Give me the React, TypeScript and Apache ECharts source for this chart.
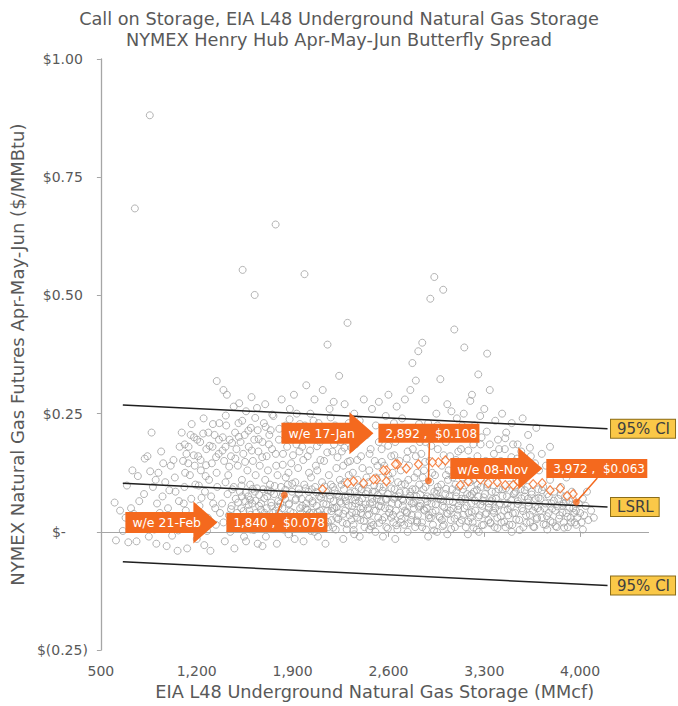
import React, { useEffect, useRef } from "react";
import * as echarts from "echarts";

// ---------- text ----------
const titleLines = [
  "Call on Storage, EIA L48 Underground Natural Gas Storage",
  "NYMEX Henry Hub Apr-May-Jun Butterfly Spread",
];
const xAxisName = "EIA L48 Underground Natural Gas Storage (MMcf)";
const yAxisName = "NYMEX Natural Gas Futures Apr-May-Jun ($/MMBtu)";
const xTicks = [500, 1200, 1900, 2600, 3300, 4000];

// ---------- historical weekly observations [storage MMcf, spread $/MMBtu] ----------
const hist0500_1080: number[][] = [
  [600,0.062],[640,0.045],[660,0.002],[700,-0.022],[690,0.098],[720,0.050],[740,0.038],[760,-0.020],[780,0.065],[610,-0.018],
  [730,0.13],[770,0.118],[750,0.012],[680,0.03],[748,0.684],[857,0.881],
  [820,0.155],[840,0.160],[860,0.128],[880,0.095],[900,0.110],[910,0.060],[930,0.040],[950,0.075],[960,0.012],[980,-0.030],
  [1000,0.088],[1010,0.140],[1030,0.152],[1050,0.025],[1060,-0.040],[1070,0.065],[830,0.030],[850,-0.010],[870,0.210],[890,0.005],
  [920,0.125],[940,0.170],[970,0.105],[990,0.050],[1020,-0.008],[1040,0.115],[1075,0.180],[815,0.080],[905,-0.025],[1065,0.003],
  [955,0.145],[1045,0.085],
];
const hist1080_1375: number[][] = [
  [1090,0.210],[1100,0.150],[1110,0.095],[1120,0.045],[1130,-0.035],[1140,0.180],[1150,0.120],[1160,0.070],[1170,0.020],[1180,0.200],
  [1190,0.100],[1200,-0.015],[1210,0.160],[1220,0.055],[1230,0.130],[1240,0.005],[1250,0.240],[1260,0.085],[1270,0.175],[1280,0.030],
  [1290,0.110],[1300,-0.040],[1310,0.145],[1320,0.060],[1330,0.205],[1340,0.015],[1350,0.095],[1360,0.165],[1370,0.040],[1346,0.319],
  [1395,0.300],[1105,0.060],[1145,0.012],[1185,0.140],[1225,0.190],[1265,0.118],[1305,0.075],[1345,0.125],[1125,0.165],[1215,0.098],
  [1285,0.210],[1335,0.050],[1255,-0.028],[1195,0.035],[1365,0.230],[1155,0.205],[1235,0.072],[1315,0.180],[1275,0.002],[1115,0.125],
];
const hist1375_1665: number[][] = [
  [1420,0.290],[1470,0.265],[1510,0.272],[1560,0.255],[1600,0.285],[1640,0.262],[1535,0.554],[1623,0.501],
  [1390,0.200],[1400,0.150],[1410,0.180],[1430,0.120],[1440,0.195],[1450,0.160],[1460,0.090],[1480,0.210],[1490,0.175],[1500,0.140],
  [1520,0.190],[1530,0.110],[1540,0.165],[1550,0.205],[1570,0.130],[1580,0.180],[1590,0.100],[1610,0.150],[1620,0.195],[1630,0.120],
  [1650,0.170],[1660,0.140],[1415,0.225],[1505,0.230],[1595,0.220],[1645,0.215],
  [1385,0.060],[1395,0.020],[1405,-0.020],[1425,0.080],[1435,0.035],[1445,0.000],[1455,0.055],[1465,0.025],[1475,-0.035],[1485,0.070],
  [1495,0.040],[1505,0.010],[1515,0.085],[1525,0.050],[1535,0.015],[1545,-0.010],[1555,0.065],[1565,0.030],[1575,0.075],[1585,0.045],
  [1595,0.005],[1605,0.060],[1615,0.020],[1625,0.085],[1635,0.040],[1645,-0.025],[1655,0.055],[1665,0.010],[1410,0.105],[1470,0.095],
  [1530,0.075],[1590,0.068],[1640,0.092],[1450,0.048],[1560,-0.020],[1620,0.030],
];
const hist1665_1960: number[][] = [
  [1776,0.650],[1700,0.270],[1760,0.245],[1820,0.280],[1880,0.260],[1930,0.250],[1690,0.230],[1850,0.225],[1910,0.290],
  [1680,0.190],[1710,0.160],[1730,0.205],[1750,0.175],[1780,0.140],[1800,0.195],[1830,0.165],[1860,0.180],[1890,0.145],[1920,0.200],
  [1950,0.170],[1720,0.130],[1790,0.120],[1870,0.125],[1940,0.135],[1740,0.215],[1900,0.210],
  [1670,0.060],[1675,0.020],[1685,0.090],[1695,0.040],[1705,-0.010],[1715,0.075],[1725,0.030],[1735,0.100],[1745,0.055],[1755,0.010],
  [1765,0.080],[1775,0.045],[1785,-0.025],[1795,0.065],[1805,0.025],[1815,0.095],[1825,0.050],[1835,0.005],[1845,0.070],[1855,0.035],
  [1865,0.100],[1875,0.060],[1885,0.015],[1895,0.085],[1905,0.040],[1915,-0.015],[1925,0.070],[1935,0.030],[1945,0.090],[1955,0.050],
  [1700,0.110],[1760,0.025],[1810,0.060],[1870,-0.005],[1920,0.105],[1680,-0.030],[1740,0.085],[1800,0.040],[1850,0.115],[1900,0.020],
  [1950,0.010],[1710,0.050],[1830,0.080],
];
const hist1960_2250: number[][] = [
  [1987,0.545],[2155,0.396],[2000,0.310],[2060,0.280],[2120,0.300],[2200,0.275],[2030,0.250],[2170,0.260],[2240,0.330],
  [1970,0.180],[2010,0.160],[2040,0.200],[2070,0.140],[2100,0.190],[2130,0.150],[2160,0.210],[2190,0.170],[2220,0.135],[2250,0.190],
  [1990,0.225],[2090,0.230],[2210,0.225],
  [1965,0.070],[1975,0.030],[1985,0.100],[1995,0.050],[2005,0.010],[2015,0.085],[2025,0.040],[2035,0.115],[2045,0.065],[2055,0.020],
  [2065,0.095],[2075,0.055],[2085,-0.010],[2095,0.075],[2105,0.035],[2115,0.105],[2125,0.060],[2135,0.015],[2145,0.085],[2155,0.045],
  [2165,0.120],[2175,0.070],[2185,0.025],[2195,0.095],[2205,0.050],[2215,0.005],[2225,0.080],[2235,0.040],[2245,0.110],[1980,-0.020],
  [2020,0.125],[2060,0.000],[2100,0.045],[2140,-0.025],[2180,0.100],[2220,0.030],[2000,0.060],[2040,0.090],[2080,0.130],[2120,0.080],
  [2160,0.010],[2200,0.065],[2240,0.075],[2010,0.035],[2110,0.020],[2190,0.050],[2050,0.040],
];
const hist2250_2540: number[][] = [
  [2301,0.442],[2280,0.270],[2350,0.250],[2420,0.280],[2480,0.260],[2530,0.275],[2390,0.235],[2310,0.230],
  [2260,0.170],[2290,0.200],[2320,0.150],[2360,0.185],[2400,0.160],[2440,0.205],[2470,0.175],[2500,0.150],[2530,0.190],[2270,0.140],
  [2340,0.125],[2410,0.135],[2460,0.130],[2520,0.140],[2380,0.215],
  [2255,0.060],[2265,0.020],[2275,0.090],[2285,0.045],[2295,0.005],[2305,0.075],[2315,0.035],[2325,0.100],[2335,0.055],[2345,0.015],
  [2355,0.085],[2365,0.040],[2375,0.110],[2385,0.065],[2395,0.025],[2405,0.090],[2415,0.050],[2425,0.010],[2435,0.080],[2445,0.035],
  [2455,0.105],[2465,0.060],[2475,0.020],[2485,0.085],[2495,0.045],[2505,0.000],[2515,0.070],[2525,0.030],[2535,0.095],[2270,-0.015],
  [2310,0.120],[2350,-0.005],[2400,0.040],[2440,0.115],[2490,0.015],[2530,0.055],[2290,0.065],[2330,0.025],[2370,0.075],[2420,0.100],
  [2460,0.005],[2500,0.085],[2280,0.105],[2360,0.060],[2450,0.050],[2510,0.115],[2390,-0.010],[2480,0.070],
];
const hist2540_2830: number[][] = [
  [2775,0.357],[2818,0.382],[2800,0.320],[2600,0.290],[2660,0.265],[2720,0.280],[2580,0.245],[2700,0.240],[2760,0.300],[2640,0.230],
  [2550,0.175],[2590,0.200],[2620,0.160],[2650,0.190],[2680,0.150],[2710,0.210],[2740,0.170],[2770,0.200],[2800,0.160],[2830,0.190],
  [2570,0.140],[2630,0.125],[2690,0.130],[2750,0.140],[2810,0.125],
  [2545,0.065],[2555,0.025],[2565,0.095],[2575,0.050],[2585,0.010],[2595,0.080],[2605,0.040],[2615,0.110],[2625,0.060],[2635,0.020],
  [2645,0.090],[2655,0.045],[2665,0.005],[2675,0.075],[2685,0.035],[2695,0.100],[2705,0.055],[2715,0.015],[2725,0.085],[2735,0.040],
  [2745,0.110],[2755,0.065],[2765,0.025],[2775,0.090],[2785,0.050],[2795,0.010],[2805,0.075],[2815,0.035],[2825,0.100],[2560,-0.010],
  [2600,0.120],[2650,-0.015],[2700,0.070],[2740,0.000],[2790,0.115],[2830,0.055],[2580,0.070],[2620,0.030],[2670,0.105],[2720,0.045],
  [2770,0.060],[2810,0.020],[2550,0.115],[2690,0.020],[2760,0.085],[2640,0.070],
];
const hist2830_3120: number[][] = [
  [2847,0.400],[2935,0.539],[3000,0.512],[2906,0.493],[2979,0.323],[3081,0.428],[2870,0.280],[2950,0.250],[3030,0.270],[3100,0.240],
  [2890,0.230],[3060,0.255],
  [2840,0.165],[2870,0.190],[2900,0.150],[2930,0.200],[2960,0.175],[2990,0.140],[3020,0.190],[3050,0.160],[3080,0.205],[3110,0.170],
  [2860,0.130],[2920,0.125],[2980,0.205],[3040,0.130],[3100,0.135],
  [2835,0.060],[2845,0.020],[2855,0.090],[2865,0.045],[2875,0.005],[2885,0.075],[2895,0.035],[2905,0.105],[2915,0.060],[2925,0.015],
  [2935,0.085],[2945,0.045],[2955,0.000],[2965,0.070],[2975,0.030],[2985,0.100],[2995,0.055],[3005,0.015],[3015,0.080],[3025,0.040],
  [3035,0.110],[3045,0.065],[3055,0.025],[3065,0.090],[3075,0.050],[3085,0.010],[3095,0.075],[3105,0.035],[3115,0.095],[2850,0.115],
  [2890,-0.010],[2940,0.120],[2990,0.025],[3030,-0.005],[3070,0.115],[3110,0.055],[2870,0.070],[2910,0.030],[2960,0.095],[3000,0.065],
  [3050,0.045],[3090,0.100],[2880,0.050],[2950,0.080],[3020,0.120],
];
const hist3120_3410: number[][] = [
  [3154,0.390],[3198,0.277],[3210,0.290],[3256,0.333],[3321,0.377],[3340,0.300],[3150,0.250],[3270,0.245],[3380,0.235],[3300,0.260],
  [3230,0.225],
  [3130,0.175],[3160,0.200],[3190,0.150],[3220,0.185],[3250,0.160],[3280,0.200],[3310,0.150],[3340,0.185],[3370,0.165],[3400,0.195],
  [3170,0.130],[3240,0.125],[3320,0.130],[3390,0.140],
  [3125,0.065],[3135,0.025],[3145,0.090],[3155,0.050],[3165,0.010],[3175,0.080],[3185,0.040],[3195,0.105],[3205,0.060],[3215,0.020],
  [3225,0.085],[3235,0.045],[3245,0.005],[3255,0.075],[3265,0.035],[3275,0.095],[3285,0.055],[3295,0.015],[3305,0.080],[3315,0.040],
  [3325,0.100],[3335,0.060],[3345,0.020],[3355,0.085],[3365,0.045],[3375,0.010],[3385,0.070],[3395,0.030],[3405,0.090],[3140,0.115],
  [3180,-0.005],[3220,0.110],[3260,0.000],[3300,0.115],[3350,0.065],[3390,0.110],[3160,0.070],[3200,0.030],[3250,0.100],[3290,0.065],
  [3330,0.025],[3380,0.050],[3210,0.080],
];
const hist3410_4100: number[][] = [
  [3430,0.250],[3500,0.230],[3580,0.240],[3460,0.210],[3620,0.205],[3680,0.220],
  [3420,0.150],[3450,0.175],[3480,0.140],[3510,0.185],[3540,0.155],[3570,0.170],[3600,0.135],[3640,0.160],[3670,0.145],[3700,0.130],
  [3415,0.060],[3425,0.020],[3435,0.090],[3445,0.045],[3455,0.010],[3465,0.075],[3475,0.035],[3485,0.100],[3495,0.055],[3505,0.015],
  [3515,0.080],[3525,0.040],[3535,0.110],[3545,0.065],[3555,0.025],[3565,0.090],[3575,0.050],[3585,0.010],[3595,0.075],[3605,0.035],
  [3615,0.095],[3625,0.055],[3635,0.020],[3645,0.085],[3655,0.045],[3665,0.010],[3675,0.070],[3685,0.030],[3695,0.090],[3440,0.120],
  [3500,0.000],[3560,0.115],[3620,0.070],[3690,0.050],[3470,0.060],[3530,0.085],[3590,0.110],
  [3710,0.070],[3720,0.030],[3730,0.095],[3740,0.050],[3750,0.015],[3760,0.080],[3770,0.040],[3780,0.110],[3790,0.060],[3800,0.020],
  [3810,0.085],[3820,0.045],[3830,0.010],[3840,0.070],[3850,0.035],[3860,0.095],[3870,0.055],[3880,0.020],[3890,0.075],[3900,0.040],
  [3910,0.010],[3920,0.065],[3930,0.030],[3940,0.085],[3950,0.050],[3960,0.020],[3970,0.045],[3980,0.030],[3990,0.060],[3750,0.140],
  [3800,0.125],[3850,0.130],[3720,0.165],[3780,0.180],[3900,0.115],[3760,0.005],[3880,0.060],
  [4000,0.040],[4010,0.020],[4020,0.070],[4030,0.035],[4040,0.055],[4060,0.025],[4080,0.045],[4050,0.085],[4020,0.005],[4100,0.030],
];
const histDenseCore: number[][] = [
  [1502,0.062],[1518,0.028],[1527,0.098],[1541,0.044],[1558,0.083],[1566,0.012],[1579,0.057],[1593,0.036],[1608,0.091],[1617,0.004],
  [1629,0.066],[1642,0.022],[1656,0.078],[1668,0.047],[1681,0.008],[1693,0.071],[1707,0.033],[1719,0.088],[1732,0.015],[1744,0.062],
  [1758,0.040],[1769,0.097],[1783,0.026],[1796,0.053],[1808,0.011],[1822,0.074],[1834,0.032],[1847,0.089],[1859,0.018],[1872,0.058],
  [1884,0.043],[1897,0.102],[1909,0.006],[1921,0.067],[1934,0.024],[1946,0.081],[1958,0.038],[1971,0.055],[1983,0.013],[1996,0.092],
  [2008,0.047],[2021,0.070],[2033,0.002],[2046,0.061],[2058,0.029],[2071,0.084],[2083,0.042],[2096,0.016],[2108,0.072],[2121,0.035],
  [2133,0.096],[2146,0.058],[2158,0.021],[2171,0.077],[2183,0.044],[2196,0.009],[2208,0.088],[2221,0.052],[2233,0.027],[2246,0.064],
  [2258,0.100],[2271,0.038],[2283,0.073],[2296,0.017],[2308,0.056],[2321,0.082],[2333,0.041],[2346,0.004],[2358,0.067],[2371,0.030],
  [2383,0.093],[2396,0.049],[2408,0.071],[2421,0.023],[2433,0.058],[2446,0.086],[2458,0.037],[2471,0.012],[2483,0.063],[2496,0.098],
  [2508,0.045],[2521,0.078],[2533,0.019],[2546,0.054],[2558,0.087],[2571,0.031],[2583,0.068],[2596,0.007],[2608,0.049],[2621,0.092],
  [2633,0.036],[2646,0.074],[2658,0.014],[2671,0.059],[2683,0.083],[2696,0.027],[2708,0.066],[2721,0.101],[2733,0.042],[2746,0.018],
  [2758,0.076],[2771,0.035],[2783,0.061],[2796,0.090],[2808,0.024],[2821,0.053],[2833,0.079],[2846,0.010],[2858,0.047],[2871,0.095],
  [2883,0.064],[2896,0.029],[2908,0.072],[2921,0.041],[2933,0.003],[2946,0.058],[2958,0.087],[2971,0.033],[2983,0.069],[2996,0.012],
  [3008,0.052],[3021,0.091],[3033,0.038],[3046,0.075],[3058,0.006],[3071,0.063],[3083,0.028],[3096,0.084],[3108,0.047],[3121,0.019],
  [3133,0.070],[3146,0.036],[3158,0.098],[3171,0.055],[3183,0.022],[3196,0.077],[3208,0.042],[3221,0.009],[3233,0.066],[3246,0.089],
  [3258,0.031],[3271,0.058],[3283,0.014],[3296,0.073],[3308,0.037],[3321,0.095],[3333,0.051],[3346,0.018],[3358,0.069],[3371,0.040],
  [3383,0.085],[3396,0.008],[3408,0.057],[3421,0.033],[3433,0.076],[3446,0.021],[3458,0.092],[3471,0.048],[3483,0.015],[3496,0.067],
  [3508,0.039],[3521,0.082],[3533,0.026],[3546,0.059],[3558,0.004],[3571,0.071],[3583,0.044],[3596,0.088],[3608,0.019],[3621,0.062],
  [3633,0.036],[3646,0.079],[3658,0.011],[3671,0.053],[3683,0.027],[3696,0.072],[3708,0.045],[3721,0.088],[3733,0.016],[3746,0.060],
  [3758,0.033],[3771,0.075],[3783,0.023],[3796,0.049],[3808,0.066],[3821,0.012],[3833,0.054],[3846,0.028],[3858,0.078],[3871,0.041],
  [3883,0.009],[3896,0.063],[3908,0.032],[3921,0.051],[3933,0.020],[3946,0.070],[3958,0.040],[3971,0.015],
];
const histUpperBand: number[][] = [
  [1112,0.185],[1138,0.145],[1163,0.228],[1178,0.162],[1203,0.195],[1228,0.152],[1247,0.208],[1268,0.141],[1294,0.182],[1318,0.228],
  [1341,0.158],[1362,0.195],[1388,0.172],[1412,0.246],[1437,0.138],[1458,0.188],[1482,0.155],[1507,0.201],[1532,0.235],[1553,0.148],
  [1577,0.214],[1602,0.172],[1627,0.241],[1652,0.196],[1678,0.158],[1703,0.222],[1727,0.185],[1752,0.248],[1777,0.165],[1803,0.218],
  [1828,0.142],[1853,0.196],[1878,0.238],[1903,0.162],[1928,0.185],[1953,0.228],[1978,0.152],[2003,0.198],[2028,0.172],[2053,0.235],
  [2078,0.181],[2103,0.152],[2128,0.215],[2153,0.168],[2178,0.242],[2203,0.185],[2228,0.158],[2253,0.222],[2278,0.178],[2303,0.148],
  [2330,0.178],[2372,0.152],[2418,0.205],[2462,0.165],[2508,0.225],[2552,0.148],[2598,0.182],[2643,0.162],[2688,0.215],[2733,0.155],
  [2778,0.175],[2823,0.228],[2868,0.148],[2913,0.182],[2958,0.225],[3003,0.162],[3048,0.205],[3093,0.152],[3138,0.225],[3183,0.172],
  [3228,0.148],[3273,0.185],[3318,0.212],[3363,0.148],[3408,0.175],[3453,0.198],[3498,0.158],[3543,0.185],[3588,0.148],[3633,0.178],
];

// ---------- current season (orange diamonds) ----------
const currentSeason: number[][] = [
  [3949,0.080],[3905,0.076],[3854,0.092],[3781,0.088],[3723,0.103],[3657,0.101],[3548,0.107],[3511,0.099],[3453,0.099],[3395,0.105],
  [3329,0.103],[3271,0.111],[3183,0.107],[3125,0.099],[3016,0.151],[2965,0.147],[2921,0.147],[2819,0.143],[2731,0.134],[2666,0.143],
  [2651,0.143],[2585,0.130],[2564,0.130],[2585,0.107],[2513,0.111],[2491,0.111],[2418,0.103],[2345,0.107],[2301,0.103],[2119,0.090],
];

// ---------- highlighted weeks ----------
const highlightPoints: number[][] = [[1840, 0.078], [2892, 0.108], [3972, 0.063]];
const highlightWeeks = ["w/e 21-Feb", "w/e 17-Jan", "w/e 08-Nov"];

// ---------- regression line and 95% confidence band ----------
const ciUpper: number[][] = [[660, 0.2685], [4200, 0.2182]];
const lsrl: number[][] = [[660, 0.1027], [4200, 0.0524]];
const ciLower: number[][] = [[660, -0.0631], [4200, -0.1136]];
const lineLabels = ["95% CI", "LSRL", "95% CI"];

// ---------- styles ----------
const FONT = "'DejaVu Sans', Verdana, sans-serif";
const GREY_TEXT = "#595959";
const AXIS_GREY = "#a6a6a6";
const ORANGE = "#F4691E";

// annotation layout (offsets from the highlighted point, in px)
const annLayout = [
  { boxDx: -58, boxDy: 18, leadDx: -7, gap: 9 },
  { boxDx: -50, boxDy: -57, leadDx: 1, gap: 5 },
  { boxDx: -30, boxDy: -43, leadDx: 21, gap: 4 },
];

const fmtStorage = (v: number) => v.toLocaleString("en-US");
const fmtMoney = (v: number) => {
  if (Math.abs(v) < 1e-9) return "{z|$-}";
  if (v < 0) return "{n|$(" + (-v).toFixed(2) + ")}";
  return "{p|$" + v.toFixed(2) + "}";
};

function lineSeries(data: number[][], label: string) {
  return {
    type: "line",
    xAxisIndex: 0,
    yAxisIndex: 0,
    silent: true,
    z: 4,
    symbol: "circle",
    symbolSize: 1,
    showSymbol: true,
    itemStyle: { color: "rgba(0,0,0,0)" },
    lineStyle: { color: "#1f1f1f", width: 1.5 },
    label: { show: false },
    data: data.map((d, i) =>
      i === data.length - 1
        ? {
            value: d,
            label: {
              show: true,
              position: "right",
              distance: 3,
              formatter: label,
              fontFamily: FONT,
              fontSize: 15,
              color: "#404040",
              backgroundColor: "#FAC848",
              borderColor: "#8a6d1a",
              borderWidth: 1,
              padding: [2, 5, 1, 6],
            },
          }
        : d
    ),
  };
}

export default function App() {
  const ref = useRef<HTMLDivElement>(null);
  useEffect(() => {
    document.body.style.margin = "0";
    const chart = echarts.init(ref.current!, null, { renderer: "svg" });
    const hist = [
      ...hist0500_1080, ...hist1080_1375, ...hist1375_1665, ...hist1665_1960, ...hist1960_2250,
      ...hist2250_2540, ...hist2540_2830, ...hist2830_3120, ...hist3120_3410, ...hist3410_4100,
      ...histDenseCore, ...histUpperBand,
    ];
    const option: any = {
      animation: false,
      title: {
        text: titleLines.join("\n"),
        left: "center",
        top: 3,
        textStyle: { fontFamily: FONT, fontSize: 17.7, fontWeight: "normal", color: GREY_TEXT, lineHeight: 21 },
      },
      grid: { left: 100, right: 29.4, top: 59, bottom: 51 },
      xAxis: [
        {
          type: "value",
          min: 500,
          max: 4500,
          position: "bottom",
          name: xAxisName,
          nameLocation: "middle",
          nameGap: 29,
          nameTextStyle: { fontFamily: FONT, fontSize: 17.7, color: GREY_TEXT },
          axisLine: { show: false, onZero: false },
          axisTick: { show: false },
          splitLine: { show: false },
          axisLabel: {
            customValues: xTicks,
            formatter: (v: number) => fmtStorage(v),
            margin: 14,
            fontFamily: FONT,
            fontSize: 14,
            color: GREY_TEXT,
          },
        },
        {
          type: "value",
          min: 500,
          max: 4500,
          position: "bottom",
          axisLine: { show: true, onZero: true, onZeroAxisIndex: 0, lineStyle: { color: AXIS_GREY, width: 1 } },
          axisTick: { show: true, customValues: xTicks, length: 5, lineStyle: { color: AXIS_GREY } },
          axisLabel: { show: false },
          splitLine: { show: false },
        },
      ],
      yAxis: {
        type: "value",
        min: -0.25,
        max: 1,
        interval: 0.25,
        name: yAxisName,
        nameLocation: "middle",
        nameGap: 74,
        nameTextStyle: { fontFamily: FONT, fontSize: 18, color: GREY_TEXT },
        axisLine: { show: true, onZero: false, lineStyle: { color: AXIS_GREY, width: 1.3 } },
        axisTick: { show: true, length: 4, lineStyle: { color: AXIS_GREY } },
        splitLine: { show: false },
        axisLabel: {
          margin: 13,
          formatter: fmtMoney,
          fontFamily: FONT,
          fontSize: 14,
          color: GREY_TEXT,
          rich: {
            p: { fontFamily: FONT, fontSize: 14, color: GREY_TEXT, padding: [0, 5, 0, 0] },
            z: { fontFamily: FONT, fontSize: 14, color: GREY_TEXT, padding: [0, 22, 0, 0] },
            n: { fontFamily: FONT, fontSize: 14, color: GREY_TEXT },
          },
        },
      },
      series: [
        {
          type: "scatter",
          xAxisIndex: 0,
          yAxisIndex: 0,
          silent: true,
          z: 2,
          symbol: "circle",
          symbolSize: 7,
          itemStyle: { color: "rgba(255,255,255,0)", borderColor: "#a0a0a0", borderWidth: 1 },
          data: hist,
        },
        {
          type: "scatter",
          xAxisIndex: 0,
          yAxisIndex: 0,
          silent: true,
          z: 3,
          symbol: "diamond",
          symbolSize: [8, 9],
          itemStyle: { color: "#ffffff", borderColor: ORANGE, borderWidth: 1.2 },
          data: currentSeason,
        },
        lineSeries(ciUpper, lineLabels[0]),
        lineSeries(lsrl, lineLabels[1]),
        lineSeries(ciLower, lineLabels[2]),
        {
          type: "scatter",
          xAxisIndex: 0,
          yAxisIndex: 0,
          silent: true,
          z: 5,
          symbol: "circle",
          symbolSize: 7,
          itemStyle: { color: ORANGE },
          data: highlightPoints,
        },
      ],
    };
    chart.setOption(option);

    // annotations anchored to highlighted points
    const graphics: any[] = [];
    const boxW = 101;
    const boxH = 19;
    highlightPoints.forEach((pt, i) => {
      const pix = chart.convertToPixel({ seriesIndex: 0 }, pt) as number[];
      const [px, py] = pix;
      const L = annLayout[i];
      const bx = px + L.boxDx;
      const by = py + L.boxDy;
      const below = L.boxDy > 0;
      const leadY = below ? by : by + boxH;
      graphics.push({
        type: "line",
        z: 100,
        shape: { x1: px + L.leadDx, y1: leadY, x2: px, y2: py },
        style: { stroke: ORANGE, lineWidth: 1.5 },
      });
      graphics.push({
        type: "rect",
        z: 101,
        shape: { x: bx, y: by, width: boxW, height: boxH },
        style: { fill: ORANGE },
      });
      graphics.push({
        type: "text",
        z: 102,
        style: {
          x: bx + 7,
          y: by + boxH / 2 + 0.5,
          text: fmtStorage(pt[0]) + " ,\u00a0\u00a0$" + pt[1].toFixed(3),
          fill: "#ffffff",
          fontFamily: FONT,
          fontSize: 12,
          align: "left",
          verticalAlign: "middle",
        },
      });
      const tip = bx - L.gap;
      const headBase = tip - 24;
      const bodyLeft = tip - 92;
      const ym = by + boxH / 2;
      graphics.push({
        type: "polygon",
        z: 101,
        shape: {
          points: [
            [bodyLeft, ym - 10.5],
            [headBase, ym - 10.5],
            [headBase, ym - 21],
            [tip, ym],
            [headBase, ym + 21],
            [headBase, ym + 10.5],
            [bodyLeft, ym + 10.5],
          ],
        },
        style: { fill: ORANGE },
      });
      graphics.push({
        type: "text",
        z: 102,
        style: {
          x: bodyLeft + 7,
          y: ym + 0.5,
          text: highlightWeeks[i],
          fill: "#ffffff",
          fontFamily: FONT,
          fontSize: 12.5,
          align: "left",
          verticalAlign: "middle",
        },
      });
    });
    chart.setOption({ graphic: graphics });

    return () => chart.dispose();
  }, []);
  return <div ref={ref} style={{ width: 678, height: 706 }} />;
}
